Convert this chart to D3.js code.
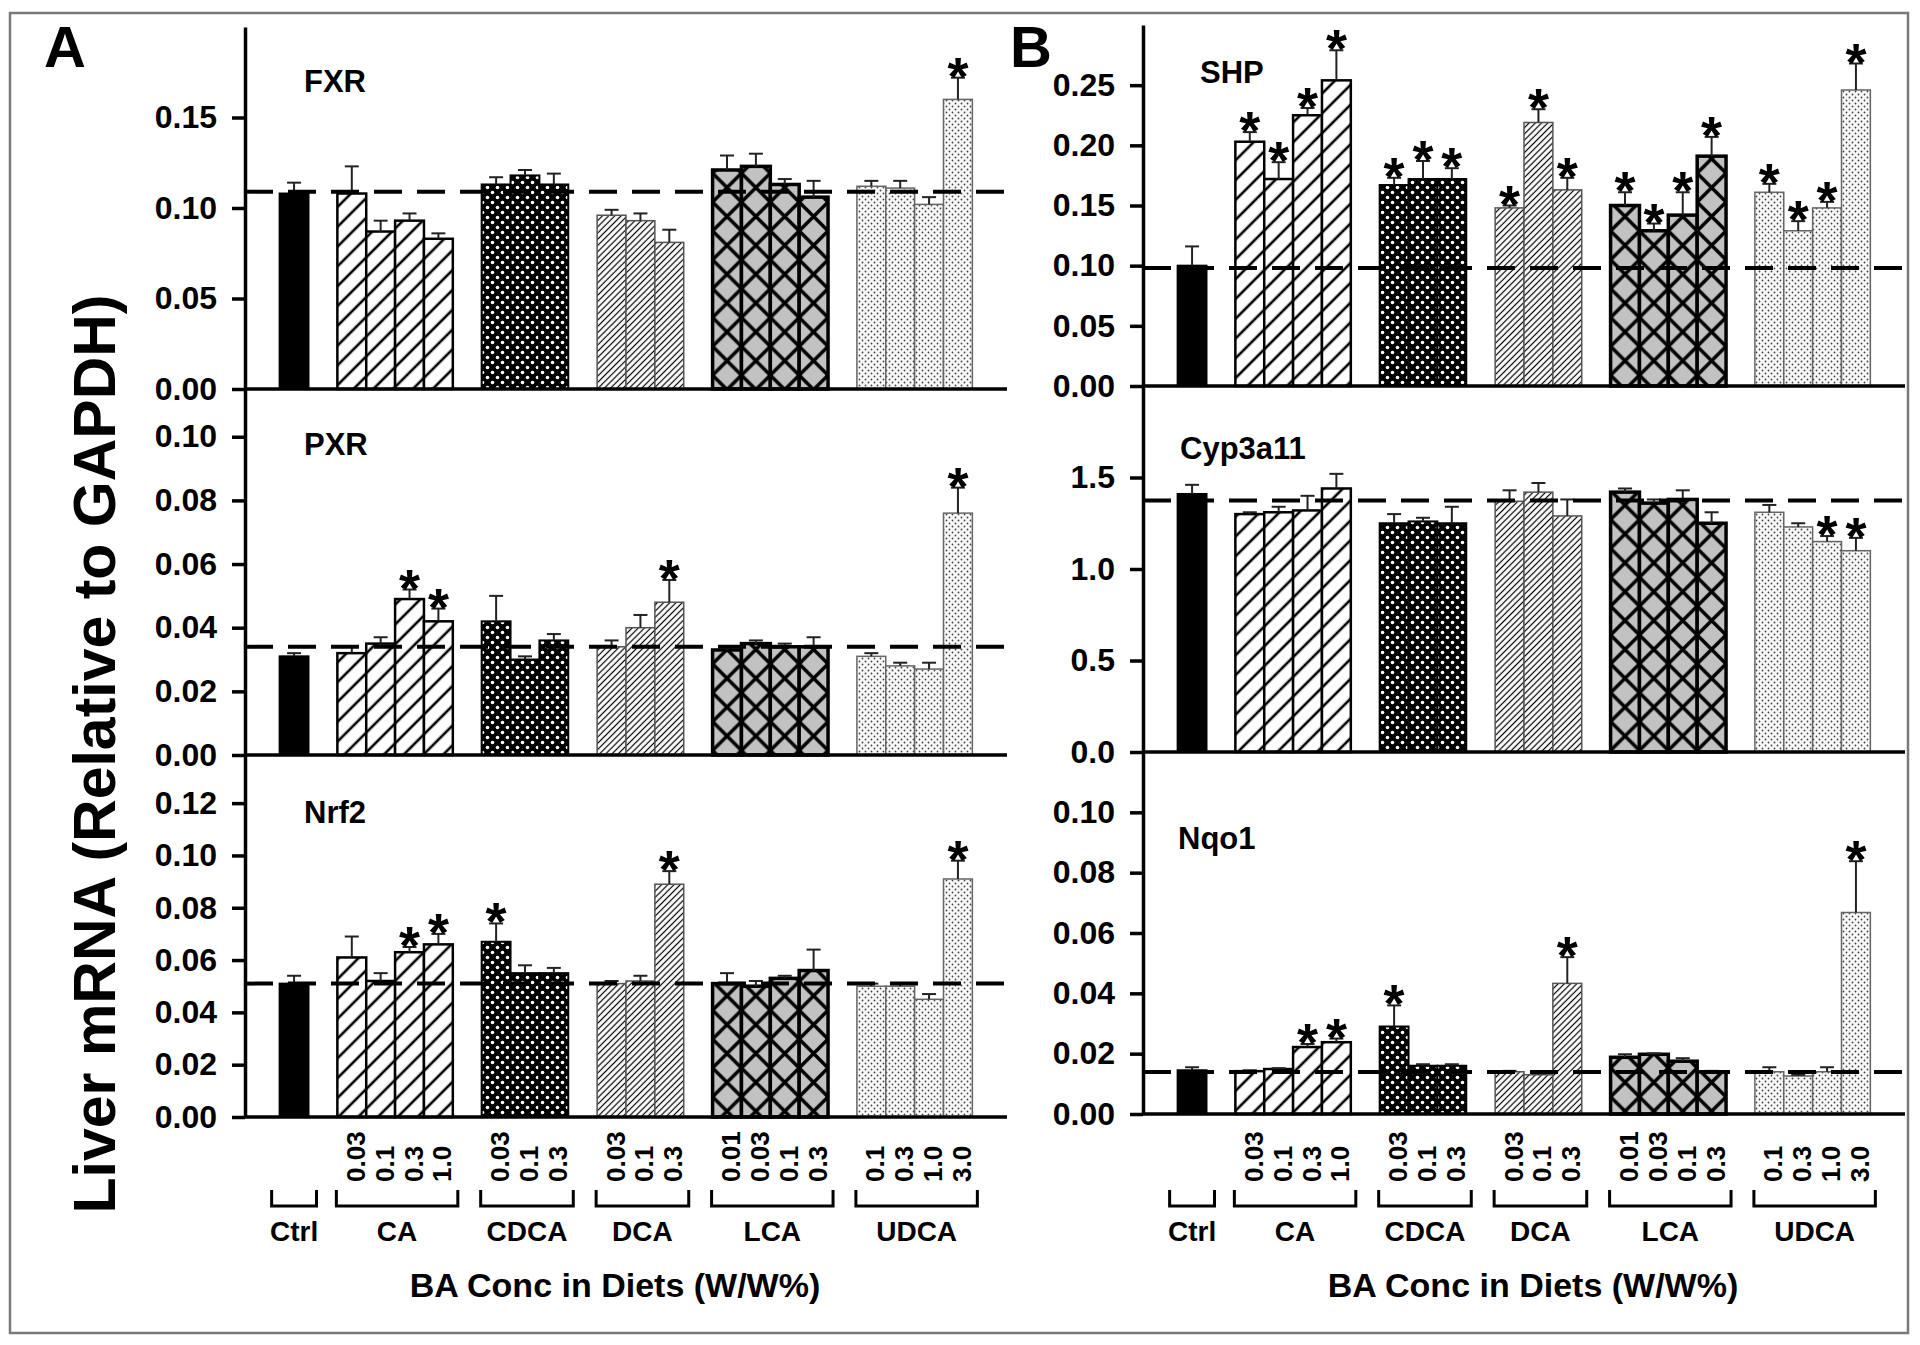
<!DOCTYPE html>
<html>
<head>
<meta charset="utf-8">
<script src="https://cdn.jsdelivr.net/npm/d3@7"></script>
<style>
  body { margin: 0; background: #fff; }
  svg text { font-family: "Liberation Sans", Arial, sans-serif; font-weight: bold; fill: #000; }
</style>
</head>
<body>
<svg id="fig" width="1920" height="1345"></svg>
<script>
// Diet groups and doses (W/W%)
const groupNames = ["Ctrl", "CA", "CDCA", "DCA", "LCA", "UDCA"];
const groupDoses = [
  [""],
  ["0.03", "0.1", "0.3", "1.0"],
  ["0.03", "0.1", "0.3"],
  ["0.03", "0.1", "0.3"],
  ["0.01", "0.03", "0.1", "0.3"],
  ["0.1", "0.3", "1.0", "3.0"]
];

// Panel A
const fxrMean = [0.108, 0.108, 0.087, 0.093, 0.083, 0.113, 0.118, 0.113, 0.096, 0.093, 0.081, 0.121, 0.123, 0.113, 0.106, 0.112, 0.111, 0.102, 0.160];
const fxrSem  = [0.006, 0.015, 0.006, 0.004, 0.003, 0.004, 0.003, 0.006, 0.003, 0.004, 0.007, 0.008, 0.007, 0.003, 0.009, 0.003, 0.004, 0.004, 0.012];
const fxrSig  = [18];
const fxrRef  = 0.109;
const fxrTicks = [0, 0.05, 0.10, 0.15];

const pxrMean = [0.031, 0.032, 0.035, 0.049, 0.042, 0.042, 0.030, 0.036, 0.034, 0.040, 0.048, 0.033, 0.035, 0.034, 0.034, 0.031, 0.028, 0.027, 0.076];
const pxrSem  = [0.001, 0.002, 0.002, 0.003, 0.004, 0.008, 0.001, 0.002, 0.002, 0.004, 0.007, 0.001, 0.001, 0.001, 0.003, 0.001, 0.001, 0.002, 0.008];
const pxrSig  = [3, 4, 10, 18];
const pxrRef  = 0.034;
const pxrTicks = [0, 0.02, 0.04, 0.06, 0.08, 0.10];

const nrf2Mean = [0.051, 0.061, 0.052, 0.063, 0.066, 0.067, 0.055, 0.055, 0.051, 0.052, 0.089, 0.051, 0.050, 0.053, 0.056, 0.050, 0.050, 0.045, 0.091];
const nrf2Sem  = [0.003, 0.008, 0.003, 0.002, 0.004, 0.007, 0.003, 0.002, 0.001, 0.002, 0.005, 0.004, 0.002, 0.001, 0.008, 0.001, 0.001, 0.002, 0.007];
const nrf2Sig  = [3, 4, 5, 10, 18];
const nrf2Ref  = 0.051;
const nrf2Ticks = [0, 0.02, 0.04, 0.06, 0.08, 0.10, 0.12];

// Panel B
const shpMean = [0.100, 0.203, 0.172, 0.225, 0.254, 0.167, 0.172, 0.172, 0.148, 0.219, 0.163, 0.150, 0.129, 0.142, 0.191, 0.161, 0.129, 0.148, 0.246];
const shpSem  = [0.016, 0.008, 0.014, 0.006, 0.025, 0.006, 0.015, 0.009, 0.002, 0.011, 0.010, 0.011, 0.006, 0.019, 0.016, 0.007, 0.008, 0.005, 0.022];
const shpSig  = [1, 2, 3, 4, 5, 6, 7, 8, 9, 10, 11, 12, 13, 14, 15, 16, 17, 18];
const shpRef  = 0.098;
const shpTicks = [0, 0.05, 0.10, 0.15, 0.20, 0.25];

const cypMean = [1.41, 1.30, 1.31, 1.32, 1.44, 1.25, 1.26, 1.25, 1.37, 1.42, 1.29, 1.42, 1.36, 1.38, 1.25, 1.31, 1.23, 1.15, 1.10];
const cypSem  = [0.05, 0.01, 0.03, 0.08, 0.08, 0.05, 0.02, 0.09, 0.06, 0.05, 0.09, 0.02, 0.02, 0.05, 0.06, 0.04, 0.02, 0.03, 0.07];
const cypSig  = [17, 18];
const cypRef  = 1.375;
const cypTicks = [0, 0.5, 1.0, 1.5];

const nqo1Mean = [0.0145, 0.0142, 0.0149, 0.0222, 0.0238, 0.0290, 0.0160, 0.0160, 0.0140, 0.0130, 0.0433, 0.0188, 0.0198, 0.0175, 0.0140, 0.0140, 0.0126, 0.0140, 0.0668];
const nqo1Sem  = [0.0010, 0.0003, 0.0003, 0.0010, 0.0012, 0.0070, 0.0005, 0.0005, 0.0003, 0.0005, 0.0087, 0.0010, 0.0003, 0.0010, 0.0003, 0.0015, 0.0004, 0.0015, 0.0170];
const nqo1Sig  = [3, 4, 5, 10, 18];
const nqo1Ref  = 0.0139;
const nqo1Ticks = [0, 0.02, 0.04, 0.06, 0.08, 0.10];

const svg = d3.select("#fig");
const defs = svg.append("defs");

// outer frame
svg.append("rect")
  .attr("x", 10).attr("y", 13).attr("width", 1898).attr("height", 1320)
  .attr("fill", "none").attr("stroke", "#7a7a7a").attr("stroke-width", 2.5);

// ---- fill patterns ----
function hatch(id, size, sw) {
  const p = defs.append("pattern").attr("id", id)
    .attr("patternUnits", "userSpaceOnUse")
    .attr("width", size).attr("height", size)
    .attr("patternTransform", "rotate(45)");
  p.append("rect").attr("width", size).attr("height", size).attr("fill", "#fff");
  p.append("line").attr("x1", size / 2).attr("y1", 0).attr("x2", size / 2).attr("y2", size)
    .attr("stroke", "#000").attr("stroke-width", sw);
}
hatch("pCA", 14, 2.6);
hatch("pDCA", 4.4, 1.2);

const pCD = defs.append("pattern").attr("id", "pCDCA")
  .attr("patternUnits", "userSpaceOnUse").attr("width", 10).attr("height", 10);
pCD.append("rect").attr("width", 10).attr("height", 10).attr("fill", "#000");
pCD.append("circle").attr("cx", 2.5).attr("cy", 2.5).attr("r", 1.8).attr("fill", "#fff");
pCD.append("circle").attr("cx", 7.5).attr("cy", 7.5).attr("r", 1.8).attr("fill", "#fff");

const pUD = defs.append("pattern").attr("id", "pUDCA")
  .attr("patternUnits", "userSpaceOnUse").attr("width", 6).attr("height", 6);
pUD.append("rect").attr("width", 6).attr("height", 6).attr("fill", "#f8f8f8");
pUD.append("circle").attr("cx", 1.5).attr("cy", 1.5).attr("r", 0.9).attr("fill", "#444");
pUD.append("circle").attr("cx", 4.5).attr("cy", 4.5).attr("r", 0.9).attr("fill", "#444");

function lcaPattern(id, x0, w) {
  const p = defs.append("pattern").attr("id", id)
    .attr("patternUnits", "userSpaceOnUse")
    .attr("x", x0).attr("y", 0).attr("width", w).attr("height", w);
  p.append("rect").attr("width", w).attr("height", w).attr("fill", "#c2c2c2");
  p.append("path").attr("d", `M0,0L${w},${w}M${w},0L0,${w}`)
    .attr("stroke", "#000").attr("stroke-width", 3.5);
}

const groupStyle = {
  Ctrl: { stroke: "#000", sw: 2 },
  CA:   { fill: "url(#pCA)", stroke: "#000", sw: 2.5 },
  CDCA: { fill: "url(#pCDCA)", stroke: "#000", sw: 2 },
  DCA:  { fill: "url(#pDCA)", stroke: "#555", sw: 1.5 },
  LCA:  { stroke: "#000", sw: 3.5 },
  UDCA: { fill: "url(#pUDCA)", stroke: "#666", sw: 1.5 }
};

// bar slots with one empty slot between groups
const bars = [];
const slots = [];
groupNames.forEach((g, gi) => {
  if (gi > 0) slots.push("gap" + gi);
  groupDoses[gi].forEach(d => {
    const key = g + "|" + d;
    slots.push(key);
    bars.push({ key, group: g, dose: d });
  });
});

const panels = [
  { id: "A", x0: 245, x1: 1007, letterX: 44, titleX: 615,
    rows: [
      { name: "FXR", mean: fxrMean, sem: fxrSem, sig: fxrSig, ref: fxrRef, ticks: fxrTicks, fmt: ".2f", max: 0.2, zero: 389, top: 27, lx: 304, ly: 92 },
      { name: "PXR", mean: pxrMean, sem: pxrSem, sig: pxrSig, ref: pxrRef, ticks: pxrTicks, fmt: ".2f", max: 0.115, zero: 755, top: 389, lx: 304, ly: 455 },
      { name: "Nrf2", mean: nrf2Mean, sem: nrf2Sem, sig: nrf2Sig, ref: nrf2Ref, ticks: nrf2Ticks, fmt: ".2f", max: 0.1384, zero: 1117, top: 755, lx: 304, ly: 823 }
    ] },
  { id: "B", x0: 1143, x1: 1905, letterX: 1010, titleX: 1533,
    rows: [
      { name: "SHP", mean: shpMean, sem: shpSem, sig: shpSig, ref: shpRef, ticks: shpTicks, fmt: ".2f", max: 0.3, zero: 386, top: 25, lx: 1200, ly: 83 },
      { name: "Cyp3a11", mean: cypMean, sem: cypSem, sig: cypSig, ref: cypRef, ticks: cypTicks, fmt: ".1f", max: 2.0, zero: 752, top: 386, lx: 1180, ly: 459 },
      { name: "Nqo1", mean: nqo1Mean, sem: nqo1Sem, sig: nqo1Sig, ref: nqo1Ref, ticks: nqo1Ticks, fmt: ".2f", max: 0.12, zero: 1114, top: 752, lx: 1178, ly: 849 }
    ] }
];

panels.forEach(P => {
  const x = d3.scaleBand().domain(slots).range([P.x0, P.x1]).paddingInner(0).paddingOuter(1.2);
  const bw = x.bandwidth();
  lcaPattern("pLCA" + P.id, x("LCA|0.01"), bw);
  const fillOf = g => g === "Ctrl" ? "#000" : g === "LCA" ? `url(#pLCA${P.id})` : groupStyle[g].fill;

  // panel letter
  svg.append("text").attr("x", P.letterX).attr("y", 67)
    .style("font-size", "58px").text(P.id);

  P.rows.forEach(R => {
    const y = d3.scaleLinear().domain([0, R.max]).range([R.zero, R.top]);
    const g = svg.append("g");
    const rows = bars.map((b, i) => ({ ...b, v: R.mean[i], e: R.sem[i], i }));

    // Bars
    g.selectAll("rect.bar").data(rows).enter().append("rect")
      .attr("class", "bar")
      .attr("x", d => x(d.key))
      .attr("y", d => y(d.v))
      .attr("width", bw)
      .attr("height", d => y(0) - y(d.v))
      .attr("fill", d => fillOf(d.group))
      .attr("stroke", d => groupStyle[d.group].stroke)
      .attr("stroke-width", d => groupStyle[d.group].sw);

    // Error bars (upper only)
    const eb = g.selectAll("g.err").data(rows).enter().append("g").attr("class", "err")
      .attr("stroke", "#222").attr("stroke-width", 2);
    eb.append("line")
      .attr("x1", d => x(d.key) + bw / 2).attr("x2", d => x(d.key) + bw / 2)
      .attr("y1", d => y(d.v)).attr("y2", d => y(d.v + d.e));
    eb.append("line")
      .attr("x1", d => x(d.key) + bw / 2 - 7).attr("x2", d => x(d.key) + bw / 2 + 7)
      .attr("y1", d => y(d.v + d.e)).attr("y2", d => y(d.v + d.e));

    // Control reference line
    g.append("line")
      .attr("x1", P.x0).attr("x2", P.x1)
      .attr("y1", y(R.ref)).attr("y2", y(R.ref))
      .attr("stroke", "#000").attr("stroke-width", 4)
      .attr("stroke-dasharray", "28,15");

    // Significance stars
    g.selectAll("text.star").data(rows.filter(d => R.sig.includes(d.i))).enter().append("text")
      .attr("class", "star")
      .attr("x", d => x(d.key) + bw / 2)
      .attr("y", d => y(d.v + d.e) + 17)
      .attr("text-anchor", "middle")
      .style("font-size", "54px")
      .text("*");

    // Y axis
    const ax = g.append("g")
      .attr("transform", `translate(${P.x0},0)`)
      .call(d3.axisLeft(y).tickValues(R.ticks).tickFormat(d3.format(R.fmt))
        .tickSize(13).tickPadding(15).tickSizeOuter(0));
    ax.select(".domain").attr("stroke", "#000").attr("stroke-width", 3.5);
    ax.selectAll(".tick line").attr("stroke", "#000").attr("stroke-width", 3.5);
    ax.selectAll(".tick text").style("font-size", "32px")
      .style("font-family", "'Liberation Sans', Arial, sans-serif").style("font-weight", "bold");

    // X baseline
    g.append("line")
      .attr("x1", P.x0).attr("x2", P.x1)
      .attr("y1", y(0)).attr("y2", y(0))
      .attr("stroke", "#000").attr("stroke-width", 3.5);

    // Gene name
    g.append("text").attr("x", R.lx).attr("y", R.ly)
      .style("font-size", "31px").text(R.name);
  });

  // Dose labels (rotated)
  svg.selectAll(null).data(bars.filter(b => b.dose !== "")).enter().append("text")
    .attr("transform", d => `translate(${x(d.key) + bw / 2 + 13},1182) rotate(-90)`)
    .attr("text-anchor", "start")
    .style("font-size", "26px")
    .text(d => d.dose);

  // Group brackets and names
  groupNames.forEach((gname, gi) => {
    const keys = groupDoses[gi].map(d => gname + "|" + d);
    const isCtrl = gname === "Ctrl";
    const bx0 = x(keys[0]) - (isCtrl ? 8 : 1);
    const bx1 = x(keys[keys.length - 1]) + bw + (isCtrl ? 8 : 5);
    svg.append("path")
      .attr("d", `M${bx0},1190V1206H${bx1}V1190`)
      .attr("fill", "none").attr("stroke", "#000").attr("stroke-width", 3);
    svg.append("text")
      .attr("x", (bx0 + bx1) / 2).attr("y", 1241)
      .attr("text-anchor", "middle")
      .style("font-size", "28px")
      .text(gname);
  });

  // X axis title
  svg.append("text")
    .attr("x", P.titleX).attr("y", 1297)
    .attr("text-anchor", "middle")
    .style("font-size", "34px")
    .text("BA Conc in Diets (W/W%)");
});

// Shared Y title
svg.append("text")
  .attr("transform", "translate(115,754) rotate(-90)")
  .attr("text-anchor", "middle")
  .style("font-size", "59px")
  .text("Liver mRNA (Relative to GAPDH)");
</script>
</body>
</html>
